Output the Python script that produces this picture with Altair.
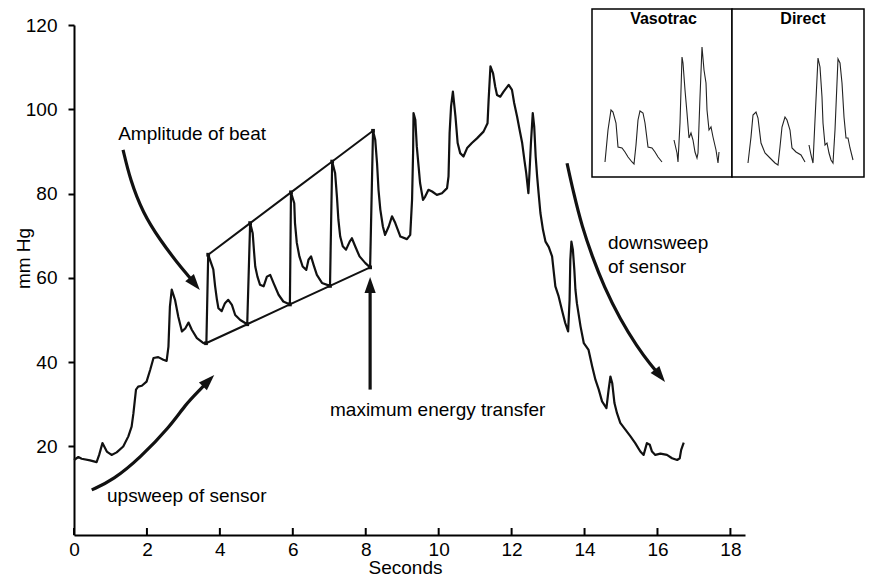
import altair as alt
import pandas as pd

FONT = "Liberation Sans"

# ---------------- main trace (seconds, mm Hg) ----------------
WAVE_T = [0.00, 0.12, 0.21, 0.44, 0.62, 0.69, 0.78, 0.90, 1.03, 1.17, 1.35, 1.49, 1.58, 1.63, 1.70,
          1.76, 1.86, 1.99, 2.09, 2.18, 2.31, 2.45, 2.54, 2.59, 2.63, 2.68, 2.77, 2.86, 2.96, 3.05,
          3.14, 3.23, 3.37, 3.55, 3.63,
          3.68, 3.82, 3.87, 3.92, 3.96, 4.05, 4.14, 4.23, 4.33, 4.42, 4.56, 4.75,
          4.83, 4.90, 4.94, 4.97, 5.03, 5.10, 5.20, 5.29, 5.38, 5.47, 5.61, 5.74, 5.92,
          5.95, 6.04, 6.06, 6.11, 6.18, 6.27, 6.37, 6.43, 6.50, 6.57, 6.66, 6.80, 7.02,
          7.08, 7.16, 7.21, 7.25, 7.30, 7.37, 7.46, 7.56, 7.62, 7.71, 7.83, 7.99, 8.12,
          8.20, 8.26, 8.31, 8.35, 8.40, 8.47, 8.53, 8.63, 8.72, 8.81, 8.95, 9.13, 9.22, 9.27,
          9.30, 9.31, 9.36, 9.40, 9.45, 9.49, 9.57, 9.63, 9.72, 9.82, 9.95, 10.09, 10.23, 10.27,
          10.30, 10.34, 10.39, 10.46, 10.52, 10.59, 10.68, 10.78, 10.91, 11.05, 11.23, 11.34,
          11.37, 11.42, 11.49, 11.55, 11.60, 11.69, 11.78, 11.92, 12.01, 12.07, 12.15, 12.22,
          12.29, 12.35, 12.40, 12.46, 12.49, 12.53, 12.58, 12.62, 12.66, 12.70, 12.74, 12.79,
          12.86, 12.93, 13.02, 13.11, 13.15, 13.20, 13.29, 13.38, 13.47, 13.55, 13.59, 13.61,
          13.64, 13.68, 13.72, 13.75, 13.79, 13.89, 13.98, 14.11, 14.21, 14.30, 14.39, 14.48,
          14.60, 14.66, 14.71, 14.76, 14.82, 14.89, 14.98, 15.12, 15.26, 15.39, 15.53, 15.62,
          15.71, 15.79, 15.85, 15.94, 16.08, 16.26, 16.40, 16.54, 16.61, 16.65, 16.72]
WAVE_P = [16.8, 17.5, 17.1, 16.7, 16.3, 18.0, 20.8, 18.8, 18.0, 18.6, 20.0, 22.4, 24.7, 27.9, 33.5,
          34.2, 34.4, 35.4, 38.2, 41.0, 41.2, 40.6, 40.3, 43.7, 53.2, 57.2, 54.8, 50.8, 47.3, 48.0,
          49.4, 47.7, 45.7, 44.5, 44.5,
          65.5, 62.0, 58.0, 54.8, 52.8, 52.1, 54.0, 54.8, 53.6, 51.2, 50.0, 49.0,
          73.0, 70.6, 65.9, 62.7, 60.3, 58.4, 58.0, 60.3, 60.7, 58.8, 56.0, 54.4, 53.7,
          80.3, 77.7, 73.0, 68.3, 65.1, 62.7, 61.9, 64.3, 65.1, 63.1, 60.7, 58.8, 58.1,
          87.6, 84.9, 79.3, 73.8, 69.8, 67.5, 66.7, 68.6, 69.4, 67.5, 65.1, 63.5, 62.5,
          94.9, 92.8, 87.2, 80.9, 76.2, 72.2, 70.2, 72.2, 74.6, 73.0, 69.8, 69.2, 70.2, 78.5,
          90.4, 99.1, 97.5, 91.2, 86.4, 82.5, 78.5, 79.3, 80.9, 80.5, 79.7, 80.1, 81.3, 84.1,
          94.4, 100.7, 104.2, 98.3, 92.0, 89.6, 88.8, 90.8, 92.0, 93.1, 94.7, 96.7,
          102.3, 110.2, 108.6, 105.4, 103.4, 103.0, 104.2, 105.8, 104.6, 101.5, 98.3, 95.1,
          92.0, 88.0, 84.9, 80.1, 84.9, 92.0, 99.1, 95.9, 88.8, 84.1, 80.1, 75.4,
          71.4, 68.6, 67.3, 65.1, 61.9, 58.0, 55.6, 52.4, 49.3, 47.3, 54.8, 64.3,
          68.6, 66.7, 61.9, 57.2, 54.0, 48.5, 44.5, 42.9, 39.0, 35.8, 33.5, 30.7,
          29.1, 33.5, 36.6, 35.0, 30.3, 27.9, 25.6, 24.0, 22.4, 20.8, 18.8, 18.0,
          20.8, 20.4, 18.8, 18.0, 18.3, 18.0, 17.2, 16.8, 17.2, 19.2, 20.9]

# beat envelope (peaks and troughs)
PEAK_T = [3.68, 4.83, 5.95, 7.08, 8.20]
PEAK_P = [65.5, 73.0, 80.3, 87.6, 94.9]
TROUGH_T = [3.62, 4.75, 5.92, 7.02, 8.12]
TROUGH_P = [44.5, 49.0, 53.7, 58.1, 62.5]

X_TICKS = [0, 2, 4, 6, 8, 10, 12, 14, 16, 18]
Y_TICKS = [20, 40, 60, 80, 100, 120]

# annotation arrows
ARROW_AMP_X = [1.345, 1.54, 1.89, 2.36, 2.83, 3.18, 3.31]
ARROW_AMP_Y = [90.4, 83.3, 75.4, 69.0, 63.6, 60.0, 58.6]
ARROW_UP_X = [0.486, 1.08, 1.81, 2.63, 3.05, 3.46, 3.69]
ARROW_UP_Y = [9.7, 12.1, 17.3, 24.7, 29.9, 33.5, 35.6]
ARROW_MAX_X = [8.12, 8.12]
ARROW_MAX_Y = [33.5, 58.3]
ARROW_DOWN_X = [13.52, 13.70, 13.93, 14.21, 14.53, 14.98, 15.44, 15.81, 16.07]
ARROW_DOWN_Y = [87.2, 80.1, 72.2, 65.1, 58.0, 50.1, 43.7, 39.4, 36.8]
HEAD_X = [3.31, 3.69, 8.12, 16.07]
HEAD_Y = [58.6, 35.6, 58.3, 36.8]
HEAD_ANGLE = [140, 45, 0, 141]

LABEL_TEXT = ["Amplitude of beat", "upsweep of sensor", "maximum energy transfer", "downsweep", "of sensor"]
LABEL_X = [1.21, 0.905, 7.02, 14.64, 14.64]
LABEL_Y = [94.1, 8.25, 28.7, 68.3, 62.6]

# ---------------- inset (box units) ----------------
INSET_PANELS = ["Vasotrac", "Direct"]
PANEL_X0 = [0, 140]
PANEL_X1 = [140, 272]
PANEL_TITLE_X = [71.5, 211]

VA_X = [13, 16, 19, 21, 24, 26, 30, 33, 36, 40, 42, 44, 46, 48, 51, 53, 56, 60, 63, 66, 70]
VA_Y = [15, 47, 67, 65, 54, 30, 29, 25, 20, 15, 13, 32, 57, 66, 64, 54, 30, 29, 25, 20, 15]
VB_X = [82, 85, 86, 88, 90, 91, 93, 95, 97, 99, 101, 103, 105, 106, 108, 110, 112, 114, 115, 117, 119, 121, 124, 126, 127]
VB_Y = [37, 24, 15, 54, 120, 114, 87, 64, 39, 44, 37, 25, 19, 24, 80, 130, 107, 94, 67, 47, 50, 40, 27, 14, 25]
DA_X = [156, 159, 161, 164, 166, 169, 173, 178, 183, 186, 188, 190, 193, 195, 198, 200, 204, 209, 213]
DA_Y = [14, 40, 62, 65, 59, 34, 24, 19, 14, 12, 30, 50, 60, 57, 47, 29, 25, 22, 15]
DB_X = [217, 219, 221, 223, 226, 228, 230, 231, 233, 235, 237, 239, 241, 243, 246, 248, 250, 252, 254, 256, 258, 261]
DB_Y = [32, 22, 14, 57, 119, 110, 80, 54, 32, 34, 24, 17, 14, 47, 118, 114, 94, 60, 39, 39, 29, 17]

# ---------------- tables ----------------
wave = pd.DataFrame({"x": WAVE_T, "y": WAVE_P, "i": range(len(WAVE_T))})
upper = pd.DataFrame({"x": PEAK_T, "y": PEAK_P})
lower = pd.DataFrame({"x": TROUGH_T, "y": TROUGH_P})
dots = pd.concat([upper, lower], ignore_index=True)

arrow_rows = []
for name, ax_, ay_ in [("amp", ARROW_AMP_X, ARROW_AMP_Y), ("up", ARROW_UP_X, ARROW_UP_Y),
                       ("max", ARROW_MAX_X, ARROW_MAX_Y), ("down", ARROW_DOWN_X, ARROW_DOWN_Y)]:
    for k, (a, b) in enumerate(zip(ax_, ay_)):
        arrow_rows.append({"arrow": name, "i": k, "x": a, "y": b})
arrows = pd.DataFrame(arrow_rows)
heads = pd.DataFrame({"x": HEAD_X, "y": HEAD_Y, "angle": HEAD_ANGLE})
labels = pd.DataFrame({"x": LABEL_X, "y": LABEL_Y, "text": LABEL_TEXT})
xticks = pd.DataFrame({"x": X_TICKS})

inset_rows = []
for name, ux, vy in [("VA", VA_X, VA_Y), ("VB", VB_X, VB_Y), ("DA", DA_X, DA_Y), ("DB", DB_X, DB_Y)]:
    for k, (a, b) in enumerate(zip(ux, vy)):
        inset_rows.append({"trace": name, "i": k, "u": a, "v": b})
inset_traces = pd.DataFrame(inset_rows)
panels = pd.DataFrame({"panel": INSET_PANELS, "u0": PANEL_X0, "u1": PANEL_X1,
                       "v0": [0, 0], "v1": [168, 168], "tu": PANEL_TITLE_X, "tv": [158.5, 158.5]})

# ---------------- scales / axes ----------------
xs = alt.Scale(domain=[0, 18.4], nice=False, zero=False)
ys = alt.Scale(domain=[-1, 120], nice=False, zero=False)

x_axis = alt.Axis(values=X_TICKS, title="Seconds", tickSize=0, domainWidth=2, domainColor="black",
                  labelFont=FONT, labelFontSize=19, labelColor="black", labelPadding=5,
                  labelFlush=False, labelOverlap=False, grid=False, format="d",
                  titleFont=FONT, titleFontSize=19, titleFontWeight="normal", titleColor="black",
                  titleX=331, titleY=38, titleBaseline="alphabetic", titleAlign="center")
y_axis = alt.Axis(values=Y_TICKS, title="mm Hg", tickSize=6, tickWidth=2, tickColor="black",
                  domainWidth=2, domainColor="black",
                  labelFont=FONT, labelFontSize=19, labelColor="black", labelPadding=11,
                  grid=False, format="d",
                  titleFont=FONT, titleFontSize=19, titleFontWeight="normal", titleColor="black",
                  titleX=-51, titleY=233, titleAngle=270, titleAlign="center", titleBaseline="middle")

X = alt.X("x:Q", scale=xs, axis=x_axis)
Y = alt.Y("y:Q", scale=ys, axis=y_axis)

wave_layer = alt.Chart(wave).mark_line(color="#111", strokeWidth=2.2, strokeJoin="round").encode(
    x=X, y=Y, order="i:Q")
upper_layer = alt.Chart(upper).mark_line(color="#111", strokeWidth=2).encode(x=X, y=Y)
lower_layer = alt.Chart(lower).mark_line(color="#111", strokeWidth=2).encode(x=X, y=Y)
dot_layer = alt.Chart(dots).mark_point(shape="square", filled=True, color="#111", size=14, opacity=1).encode(
    x=X, y=Y)
arrow_layer = alt.Chart(arrows).mark_line(color="#111", strokeWidth=3.2, interpolate="basis").encode(
    x=X, y=Y, detail="arrow:N", order="i:Q")
head_layer = alt.Chart(heads).mark_point(shape="M0,-1L0.7,1L-0.7,1Z", filled=True, color="#111",
                                         size=256, opacity=1).encode(
    x=X, y=Y, angle=alt.Angle("angle:Q", scale=None))
text_layer = alt.Chart(labels).mark_text(align="left", baseline="middle", font=FONT, fontSize=19,
                                         color="black").encode(x=X, y=Y, text="text:N")
tick_layer = alt.Chart(xticks).mark_rule(color="black", strokeWidth=2).encode(
    x=X, y=alt.value(510), y2=alt.value(503))

main = alt.layer(wave_layer, upper_layer, lower_layer, dot_layer, arrow_layer, head_layer,
                 text_layer, tick_layer)

# inset with its own scales placed in the upper right
us = alt.Scale(domain=[0, 272], range=[518, 790], nice=False, zero=False)
vs = alt.Scale(domain=[0, 168], range=[152, -16], nice=False, zero=False)

box_layer = alt.Chart(panels).mark_rect(fill="white", stroke="black", strokeWidth=1.5).encode(
    x=alt.X("u0:Q", scale=us, axis=None), x2="u1:Q",
    y=alt.Y("v0:Q", scale=vs, axis=None), y2="v1:Q")
inset_line_layer = alt.Chart(inset_traces).mark_line(color="#222", strokeWidth=1.1).encode(
    x=alt.X("u:Q", scale=us, axis=None), y=alt.Y("v:Q", scale=vs, axis=None),
    detail="trace:N", order="i:Q")
inset_title_layer = alt.Chart(panels).mark_text(font=FONT, fontSize=16, fontWeight="bold",
                                                color="black", baseline="middle", align="center").encode(
    x=alt.X("tu:Q", scale=us, axis=None), y=alt.Y("tv:Q", scale=vs, axis=None), text="panel:N")

inset = alt.layer(box_layer, inset_line_layer, inset_title_layer)

chart = alt.layer(main, inset).resolve_scale(x="independent", y="independent").properties(
    width=671, height=510,
    padding={"left": 66, "top": 17, "right": 120, "bottom": 42},
    autosize=alt.AutoSizeParams(type="none"),
    background="white",
).configure_view(stroke=None)

chart.save("out.html", embed_options={"renderer": "svg", "actions": False})
